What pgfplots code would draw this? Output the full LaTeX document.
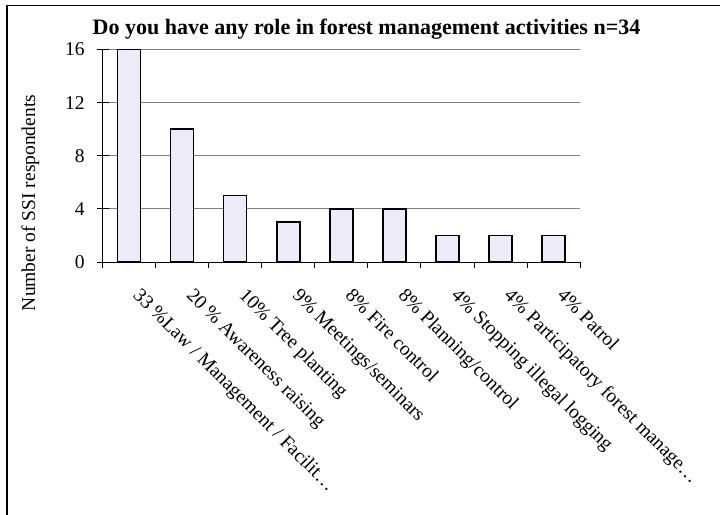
\documentclass[border=0pt]{standalone}
\usepackage{fontspec}
\setmainfont{Liberation Serif}
\usepackage{pgfplots}
\pgfplotsset{compat=1.18}

\definecolor{barfill}{RGB}{235,235,250}
\definecolor{gridgray}{RGB}{128,128,128}

\begin{document}
\begin{tikzpicture}
\useasboundingbox (0pt,0pt) rectangle (720pt,-514pt);
% chart frame (only top and left edges show)
\draw[line width=1.5pt] (7pt,-520pt) -- (7pt,-5.5pt) -- (725pt,-5.5pt);

\node[anchor=base,font=\bfseries\fontsize{22}{24}\selectfont] at (366.5pt,-34pt) {Do you have any role in forest management activities n=34};
\node[rotate=90,anchor=base,font=\fontsize{19.5}{22}\selectfont] at (35pt,-203pt) {Number of SSI respondents};

\begin{axis}[
  at={(102.7pt,-262pt)}, anchor=south west,
  scale only axis,
  width=477.3pt, height=212.5pt,
  ymin=0, ymax=16,
  xmin=-0.5, xmax=8.5,
  ytick={0,4,8,12,16},
  xtick={0,...,8},
  xticklabels={33 \%Law / Management / Facilit\dots,
               20 \% Awareness raising,
               10\% Tree planting,
               9\% Meetings/seminars,
               8\% Fire control,
               8\% Planning/control,
               4\% Stopping illegal logging,
               4\% Participatory forest manage\dots,
               4\% Patrol},
  minor xtick={-0.5,0.5,...,8.5},
  major x tick style={draw=none},
  minor x tick style={black, line width=0.8pt},
  minor tick length=6pt,
  xtick align=outside,
  ytick align=center,
  major tick length=12pt,
  ytick style={black, line width=0.8pt},
  axis x line*=bottom,
  axis y line*=left,
  axis line style={black, line width=1pt},
  ymajorgrids=true,
  grid style={gridgray, line width=0.9pt},
  ybar, bar width=23pt,
  tick label style={font=\fontsize{19.5}{22}\selectfont},
  /pgf/number format/assume math mode=true,
  xticklabel style={rotate=-45, anchor=north west, inner sep=0pt, xshift=18pt},
  yticklabel style={inner sep=0pt, xshift=-12pt},
]
\addplot[fill=barfill, draw=black, line width=1.4pt]
coordinates {
(0,16)
(1,10)
(2,5)
(3,3)
(4,4)
(5,4)
(6,2)
(7,2)
(8,2)
};
\draw[gridgray, line width=0.9pt] (rel axis cs:1,0) -- (rel axis cs:1,1);
\end{axis}
\end{tikzpicture}
\end{document}
